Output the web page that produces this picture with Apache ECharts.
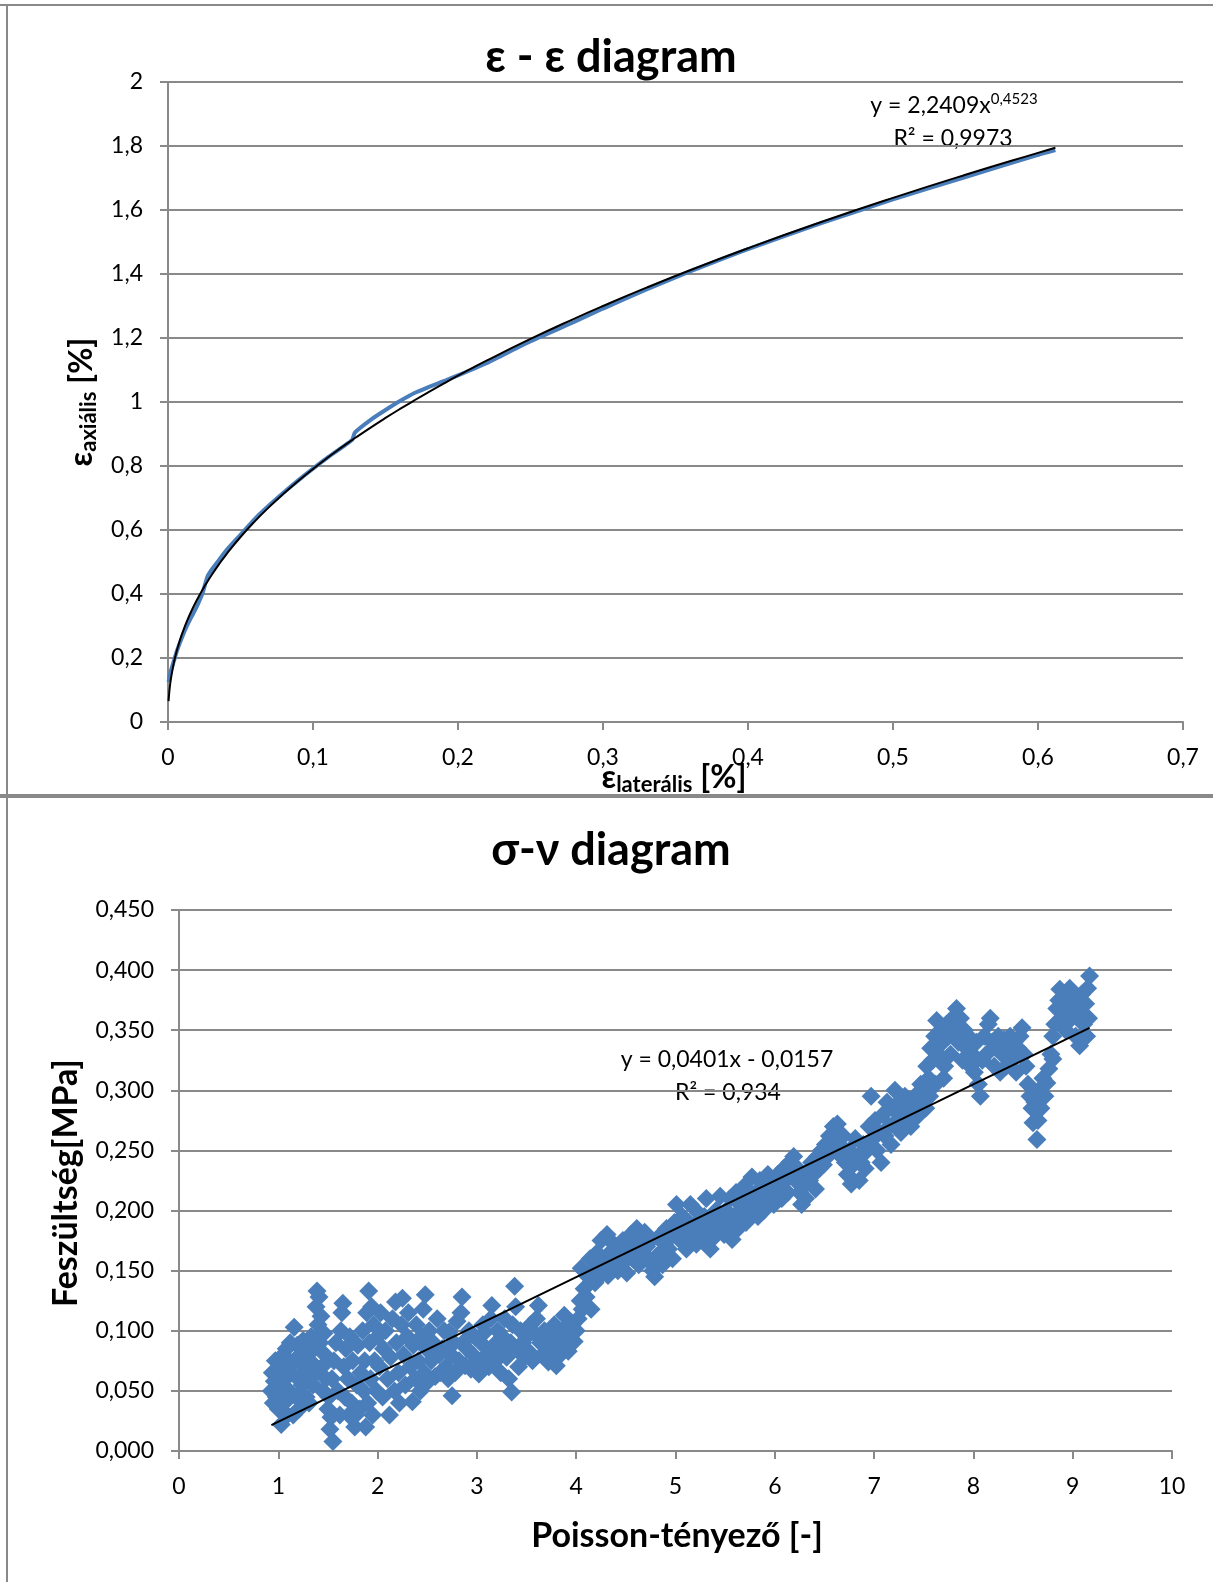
<!DOCTYPE html>
<html><head><meta charset="utf-8">
<script src="https://cdn.jsdelivr.net/npm/echarts@6/dist/echarts.min.js"></script>
<style>html,body{margin:0;padding:0;background:#fff}#c{width:1213px;height:1582px}</style>
</head><body><div id="c"></div>
<script>
const FONT = 'Lato, "Open Sans", sans-serif';
const GRAY = '#898989';
const BLUE = '#4A7EBB';

// ---- Top chart: ε - ε diagram ----
const epsLateral = [0.0004,0.001,0.002,0.004,0.006,0.008,0.010,0.013,0.016,0.020,0.024,0.027,0.030,0.035,0.040,0.050,0.060,0.070,0.080,0.090,0.100,0.110,0.120,0.127,0.129,0.140,0.150,0.160,0.170,0.180,0.190,0.200,0.220,0.250,0.280,0.300,0.330,0.360,0.400,0.450,0.500,0.550,0.600,0.612];
const epsAxial   = [0.125,0.14,0.16,0.19,0.22,0.245,0.268,0.30,0.327,0.362,0.405,0.452,0.475,0.505,0.535,0.585,0.635,0.678,0.718,0.756,0.792,0.826,0.858,0.882,0.905,0.945,0.975,1.003,1.028,1.047,1.065,1.083,1.122,1.190,1.250,1.292,1.352,1.408,1.478,1.558,1.633,1.703,1.772,1.787];
const powerFit = {a: 2.2409, b: 0.4523};
const topXAxis = {min: 0, max: 0.7, interval: 0.1};
const topYAxis = {min: 0, max: 2, interval: 0.2};

// ---- Bottom chart: σ-ν diagram ----
const poissonStress = [
[0.93,0.050],[0.94,0.065],[0.95,0.040],[0.96,0.058],[0.97,0.075],[0.98,0.045],[1.00,0.035],[1.00,0.062],[1.02,0.070],[1.03,0.022],[1.04,0.050],[1.05,0.080],[1.06,0.040],[1.07,0.060],[1.08,0.085],[1.09,0.030],[1.10,0.070],[1.11,0.050],[1.12,0.090],[1.13,0.065],[1.15,0.030],[1.16,0.103],[1.17,0.075],[1.18,0.045],[1.19,0.088],[1.20,0.060],[1.21,0.035],[1.22,0.080],[1.24,0.055],[1.25,0.092],[1.26,0.070],[1.28,0.045],[1.29,0.085],[1.30,0.060],
[1.31,0.040],[1.32,0.075],[1.33,0.095],[1.35,0.055],[1.36,0.085],[1.37,0.065],[1.38,0.120],[1.39,0.133],[1.40,0.105],[1.41,0.128],[1.42,0.090],[1.43,0.112],[1.44,0.070],[1.45,0.050],[1.46,0.098],[1.47,0.080],[1.48,0.060],
[1.50,0.035],[1.51,0.045],[1.52,0.018],[1.53,0.028],[1.55,0.008],[1.54,0.060],[1.56,0.075],
[1.58,0.090],[1.60,0.050],[1.62,0.030],[1.63,0.100],[1.64,0.115],[1.65,0.123],[1.66,0.070],[1.67,0.045],[1.68,0.085],[1.70,0.060],[1.71,0.030],[1.72,0.095],[1.74,0.040],[1.75,0.075],[1.77,0.020],[1.78,0.030],[1.79,0.055],[1.80,0.088],[1.82,0.035],[1.83,0.065],[1.85,0.100],[1.86,0.050],[1.87,0.075],[1.88,0.020],[1.89,0.115],[1.90,0.040],[1.91,0.133],[1.92,0.090],[1.93,0.060],[1.94,0.120],[1.95,0.030],[1.96,0.105],[1.97,0.075],[1.99,0.050],
[2.00,0.095],[2.02,0.070],[2.03,0.115],[2.05,0.045],[2.06,0.085],[2.08,0.100],[2.10,0.060],[2.12,0.030],[2.13,0.078],[2.15,0.110],[2.17,0.050],[2.18,0.124],[2.19,0.090],[2.21,0.065],[2.22,0.040],[2.24,0.105],[2.25,0.127],[2.26,0.080],[2.28,0.055],[2.30,0.095],[2.31,0.115],[2.33,0.070],[2.35,0.041],[2.36,0.088],[2.38,0.060],[2.39,0.105],[2.41,0.075],[2.43,0.050],[2.44,0.095],[2.46,0.118],[2.47,0.065],[2.48,0.130],[2.49,0.085],
[2.51,0.058],[2.52,0.100],[2.54,0.075],[2.56,0.090],[2.58,0.062],[2.60,0.110],[2.62,0.080],[2.63,0.065],[2.65,0.085],[2.67,0.100],[2.69,0.070],[2.71,0.060],[2.72,0.099],[2.74,0.080],[2.75,0.046],[2.77,0.090],[2.78,0.065],[2.80,0.108],[2.82,0.075],[2.84,0.115],[2.85,0.128],[2.86,0.090],[2.88,0.071],[2.90,0.085],[2.92,0.100],[2.94,0.068],[2.96,0.080],[2.98,0.095],
[3.00,0.075],[3.02,0.064],[3.04,0.090],[3.06,0.105],[3.08,0.099],[3.10,0.080],[3.12,0.070],[3.14,0.110],[3.15,0.121],[3.17,0.088],[3.19,0.075],[3.21,0.100],[3.22,0.085],[3.24,0.065],[3.26,0.095],[3.28,0.110],[3.30,0.078],[3.32,0.060],[3.34,0.090],[3.35,0.049],[3.36,0.105],[3.38,0.137],[3.39,0.120],[3.40,0.085],[3.42,0.070],[3.44,0.100],[3.46,0.090],[3.48,0.078],
[3.50,0.095],[3.52,0.083],[3.54,0.105],[3.56,0.075],[3.58,0.098],[3.60,0.110],[3.62,0.121],[3.64,0.090],[3.66,0.080],[3.68,0.100],[3.70,0.088],[3.72,0.074],[3.74,0.095],[3.76,0.082],[3.78,0.105],[3.80,0.071],[3.82,0.092],[3.84,0.080],[3.86,0.100],[3.88,0.113],[3.90,0.090],[3.92,0.083],[3.94,0.098],[3.96,0.105],[3.98,0.091],
[4.00,0.100],[4.02,0.110],[4.04,0.125],[4.05,0.152],[4.06,0.118],[4.08,0.135],[4.10,0.128],[4.12,0.145],[4.14,0.160],[4.15,0.118],[4.17,0.150],[4.19,0.140],[4.21,0.165],[4.23,0.155],[4.25,0.175],[4.27,0.148],[4.29,0.160],[4.31,0.180],[4.32,0.146],
[4.34,0.165],[4.36,0.155],[4.38,0.172],[4.40,0.160],[4.42,0.150],[4.45,0.163],[4.47,0.175],[4.49,0.158],[4.51,0.148],[4.53,0.168],[4.55,0.180],[4.57,0.160],[4.59,0.170],[4.61,0.185],[4.63,0.155],[4.65,0.175],[4.67,0.165],[4.69,0.182],[4.71,0.170],[4.73,0.158],[4.75,0.175],[4.77,0.150],[4.79,0.145],[4.81,0.162],[4.83,0.178],[4.85,0.165],[4.87,0.155],[4.89,0.172],[4.91,0.185],[4.93,0.168],[4.95,0.178],[4.97,0.160],[4.99,0.190],
[5.01,0.205],[5.03,0.185],[5.05,0.175],[5.07,0.195],[5.09,0.180],[5.11,0.168],[5.13,0.190],[5.15,0.205],[5.17,0.178],[5.19,0.188],[5.21,0.172],[5.23,0.198],[5.25,0.185],[5.27,0.175],[5.29,0.195],[5.31,0.210],[5.33,0.185],[5.35,0.168],[5.37,0.192],[5.39,0.178],[5.41,0.200],[5.43,0.185],[5.45,0.212],[5.47,0.195],[5.49,0.180],
[5.51,0.200],[5.53,0.188],[5.55,0.210],[5.57,0.176],[5.59,0.195],[5.61,0.215],[5.63,0.185],[5.65,0.205],[5.67,0.195],[5.69,0.220],[5.71,0.190],[5.73,0.210],[5.75,0.200],[5.77,0.228],[5.79,0.205],[5.81,0.215],[5.83,0.195],[5.85,0.225],[5.87,0.210],[5.89,0.200],[5.91,0.220],[5.93,0.230],[5.95,0.212],[5.97,0.222],[5.99,0.205],
[6.01,0.215],[6.03,0.230],[6.05,0.222],[6.07,0.210],[6.09,0.235],[6.11,0.225],[6.13,0.215],[6.15,0.240],[6.17,0.230],[6.19,0.245],[6.21,0.225],[6.23,0.235],[6.25,0.215],[6.27,0.205],[6.29,0.220],[6.31,0.210],[6.33,0.230],[6.35,0.225],[6.37,0.240],[6.39,0.230],[6.41,0.218],[6.43,0.245],[6.45,0.235],[6.47,0.250],[6.49,0.238],
[6.51,0.255],[6.53,0.245],[6.55,0.262],[6.57,0.250],[6.59,0.270],[6.61,0.260],[6.63,0.272],[6.65,0.255],[6.67,0.245],[6.69,0.262],[6.71,0.240],[6.73,0.230],[6.75,0.250],[6.77,0.222],[6.79,0.238],[6.81,0.260],[6.83,0.245],[6.85,0.225],[6.87,0.240],[6.89,0.255],[6.91,0.235],[6.93,0.250],[6.95,0.270],[6.97,0.295],[6.99,0.260],
[7.01,0.275],[7.03,0.250],[7.05,0.265],[7.07,0.240],[7.09,0.280],[7.11,0.262],[7.13,0.290],[7.15,0.270],[7.17,0.255],[7.19,0.285],[7.21,0.300],[7.23,0.275],[7.25,0.290],[7.27,0.265],[7.29,0.280],[7.31,0.295],[7.33,0.275],[7.35,0.288],[7.37,0.270],[7.39,0.282],[7.41,0.295],[7.43,0.278],[7.45,0.290],[7.47,0.305],[7.49,0.285],
[7.51,0.300],[7.52,0.285],[7.53,0.320],[7.55,0.310],[7.56,0.295],[7.57,0.335],[7.59,0.325],[7.61,0.345],[7.62,0.305],[7.63,0.358],[7.65,0.330],[7.67,0.350],[7.69,0.340],[7.70,0.310],[7.71,0.320],[7.73,0.355],[7.75,0.345],[7.77,0.330],[7.79,0.360],[7.81,0.350],[7.83,0.368],[7.85,0.340],[7.87,0.360],[7.89,0.325],[7.91,0.350],[7.93,0.335],[7.95,0.345],[7.97,0.320],[7.99,0.330],
[8.01,0.315],[8.03,0.340],[8.05,0.305],[8.07,0.295],[8.09,0.325],[8.11,0.345],[8.13,0.330],[8.15,0.355],[8.17,0.360],[8.19,0.340],[8.21,0.320],[8.23,0.335],[8.25,0.345],[8.27,0.315],[8.29,0.330],[8.31,0.342],[8.33,0.320],[8.35,0.335],[8.37,0.345],[8.39,0.325],[8.41,0.340],[8.43,0.315],[8.45,0.335],[8.47,0.345],[8.49,0.352],[8.51,0.330],
[8.53,0.320],[8.55,0.305],[8.57,0.295],[8.59,0.285],[8.60,0.273],[8.62,0.290],[8.64,0.259],[8.65,0.275],[8.66,0.300],[8.68,0.285],[8.70,0.310],[8.72,0.295],[8.74,0.306],[8.76,0.318],[8.78,0.330],[8.80,0.326],[8.80,0.345],
[8.82,0.355],[8.84,0.368],[8.86,0.375],[8.87,0.384],[8.89,0.360],[8.91,0.378],[8.93,0.350],[8.95,0.370],[8.97,0.385],[8.99,0.360],[9.01,0.375],[9.03,0.345],[9.05,0.365],[9.07,0.337],[9.09,0.380],[9.11,0.355],[9.13,0.372],[9.15,0.385],[9.17,0.395],[9.16,0.360],[9.14,0.345]
];
const linearFit = {a: 0.0401, b: -0.0157};
const botXAxis = {min: 0, max: 10, interval: 1};
const botYAxis = {min: 0, max: 0.45, interval: 0.05};

// fitted trend lines (from the displayed equations, over the data range)
const topData = epsLateral.map((x, i) => [x, epsAxial[i]]);
const topTrend = epsLateral.map(x => [x, powerFit.a * Math.pow(x, powerFit.b)]);
const pxs = poissonStress.map(p => p[0]);
const botX0 = Math.min(...pxs), botX1 = Math.max(...pxs);
const botTrend = [[botX0, linearFit.a * botX0 + linearFit.b], [botX1, linearFit.a * botX1 + linearFit.b]];

const comma = s => String(s).replace('.', ',');
const axisCommon = (extra) => Object.assign({
  type: 'value',
  axisLine: {show: true, lineStyle: {color: GRAY, width: 2}},
  axisTick: {show: true, length: 8, lineStyle: {color: GRAY, width: 2}},
  splitLine: {show: false}
}, extra);
const lab = (margin, formatter) => ({color: '#000', fontSize: 23, fontFamily: FONT, margin, formatter});

const chart = echarts.init(document.getElementById('c'), null, {renderer: 'canvas'});
const txt = (x, y, text, size, bold, extra) => ({
  type: 'text', x, y, silent: true,
  style: Object.assign({text, fontSize: size, fontWeight: bold ? 'bold' : 'normal', fontFamily: FONT, fill: '#000', align: 'center', verticalAlign: 'middle'}, extra || {})
});
const subRich = {
  e: {fontSize: 32, fontWeight: 'bold', fontFamily: FONT, lineHeight: 36, verticalAlign: 'middle', fill: '#000'},
  s: {fontSize: 22, fontWeight: 'bold', fontFamily: FONT, lineHeight: 18, verticalAlign: 'bottom', fill: '#000'}
};
chart.setOption({
  animation: false,
  backgroundColor: '#fff',
  grid: [
    {left: 168, top: 82, width: 1015, height: 640},
    {left: 179, top: 910, width: 993, height: 541}
  ],
  xAxis: [
    axisCommon({gridIndex: 0, min: topXAxis.min, max: topXAxis.max, interval: topXAxis.interval,
      axisLabel: lab(24, v => comma(+v.toFixed(1)))}),
    axisCommon({gridIndex: 1, min: botXAxis.min, max: botXAxis.max, interval: botXAxis.interval,
      axisLabel: lab(24, v => String(Math.round(v)))})
  ],
  yAxis: [
    axisCommon({gridIndex: 0, min: topYAxis.min, max: topYAxis.max, interval: topYAxis.interval,
      splitLine: {show: true, lineStyle: {color: GRAY, width: 2}},
      axisLabel: lab(25, v => comma(+v.toFixed(1)))}),
    axisCommon({gridIndex: 1, min: botYAxis.min, max: botYAxis.max, interval: botYAxis.interval,
      splitLine: {show: true, lineStyle: {color: GRAY, width: 2}},
      axisLabel: lab(25, v => comma(v.toFixed(3)))})
  ],
  series: [
    {type: 'line', xAxisIndex: 0, yAxisIndex: 0, data: topData, showSymbol: false, symbol: 'none', smooth: 0.2,
      lineStyle: {color: BLUE, width: 4}, z: 2},
    {type: 'line', xAxisIndex: 0, yAxisIndex: 0, data: topTrend, showSymbol: false, symbol: 'none', smooth: true,
      lineStyle: {color: '#000', width: 2}, z: 3},
    {type: 'scatter', xAxisIndex: 1, yAxisIndex: 1, data: poissonStress, symbol: 'diamond', symbolSize: 19,
      itemStyle: {color: BLUE, opacity: 1}, z: 2},
    {type: 'line', xAxisIndex: 1, yAxisIndex: 1, data: botTrend, showSymbol: false, symbol: 'none',
      lineStyle: {color: '#000', width: 2}, z: 3}
  ],
  graphic: [
    {type: 'line', silent: true, shape: {x1: 0, y1: 5, x2: 1213, y2: 5}, style: {stroke: GRAY, lineWidth: 2}},
    {type: 'line', silent: true, shape: {x1: 7, y1: 5, x2: 7, y2: 1582}, style: {stroke: GRAY, lineWidth: 2}},
    {type: 'line', silent: true, shape: {x1: 0, y1: 796, x2: 1213, y2: 796}, style: {stroke: GRAY, lineWidth: 4}},
    txt(611, 57, 'ε - ε diagram', 45, true),
    txt(611, 850, 'σ-ν diagram', 45, true),
    txt(954, 106, '{m|y = 2,2409x}{s|0,4523}', 23, false, {rich: {
      m: {fontSize: 23, fontFamily: FONT, lineHeight: 28, verticalAlign: 'middle', fill: '#000'},
      s: {fontSize: 15, fontFamily: FONT, lineHeight: 15, verticalAlign: 'top', fill: '#000'}}}),
    txt(953, 139, 'R² = 0,9973', 23, false),
    txt(727, 1060, 'y = 0,0401x - 0,0157', 23, false),
    txt(728, 1093, 'R² = 0,934', 23, false),
    txt(674, 778, '{e|ε}{s|laterális}{e| [%]}', 30, true, {rich: subRich}),
    Object.assign(txt(82, 402, '{e|ε}{s|axiális}{e| [%]}', 30, true, {rich: subRich}), {rotation: Math.PI / 2}),
    Object.assign(txt(66, 1183, 'Feszültség[MPa]', 34, true), {rotation: Math.PI / 2}),
    txt(677, 1536, 'Poisson-tényező [-]', 34, true)
  ]
});
</script></body></html>
